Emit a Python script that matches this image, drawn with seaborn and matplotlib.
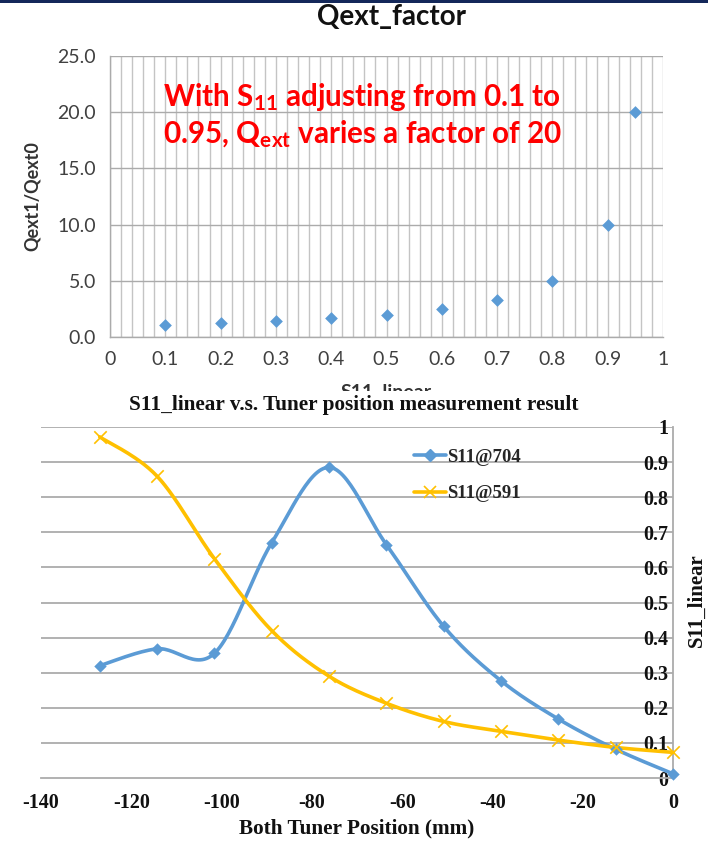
import numpy as np
import pandas as pd
import matplotlib
matplotlib.use("Agg")
import matplotlib.pyplot as plt
import matplotlib.transforms as mtransforms
from matplotlib.lines import Line2D
from matplotlib.patches import Rectangle
import seaborn as sns

# ---------------- data ----------------
s11_linear = [0.1, 0.2, 0.3, 0.4, 0.5, 0.6, 0.7, 0.8, 0.9, 0.95]
qext_ratio = [1.11, 1.25, 1.43, 1.67, 2.0, 2.5, 3.33, 5.0, 10.0, 20.0]

tuner_pos = [-127.0, -114.3, -101.6, -88.9, -76.2, -63.5, -50.8, -38.1, -25.4, -12.7, 0.0]
s11_704 = [0.32, 0.368, 0.355, 0.67, 0.885, 0.665, 0.432, 0.277, 0.168, 0.082, 0.012]
s11_591 = [0.972, 0.86, 0.625, 0.42, 0.29, 0.213, 0.161, 0.133, 0.108, 0.087, 0.073]

top_yticks = [0, 5, 10, 15, 20, 25]
top_xticks = [0, 0.1, 0.2, 0.3, 0.4, 0.5, 0.6, 0.7, 0.8, 0.9, 1.0]
bot_xticks = [-140, -120, -100, -80, -60, -40, -20, 0]
bot_yticks = [0, 0.1, 0.2, 0.3, 0.4, 0.5, 0.6, 0.7, 0.8, 0.9, 1.0]

# ---------------- style ----------------
sns.set_theme(style="white")
plt.rcParams['font.family'] = ['Lato', 'DejaVu Sans']
plt.rcParams['mathtext.fontset'] = 'custom'
plt.rcParams['mathtext.rm'] = 'Lato:bold'
plt.rcParams['mathtext.it'] = 'Lato:bold'
plt.rcParams['mathtext.bf'] = 'Lato:bold'

BLUE = '#5B9BD5'
YELLOW = '#FFC000'
GRID = '#ABABAB'
SERIF = 'Liberation Serif'

fig = plt.figure(figsize=(7.08, 8.42), dpi=100)
fig.patch.set_facecolor('white')

# dark header bar
fig.patches.append(Rectangle((0, 1 - 3 / 842), 1, 3 / 842, transform=fig.transFigure,
                             facecolor='#14285A', edgecolor='none', zorder=10))

# ---------------- top chart ----------------
ax1 = fig.add_axes([110 / 708, 1 - 337 / 842, 553 / 708, 281 / 842])
ax1.set_xlim(0, 1)
ax1.set_ylim(0, 25)
for xv in np.arange(0, 1.0001, 0.02):
    ax1.axvline(xv, color='#C4C4C4', lw=1.0, zorder=0)
for yv in top_yticks:
    ax1.axhline(yv, color=GRID, lw=1.0, zorder=0.5)
top_df = pd.DataFrame({'s11': s11_linear, 'q': qext_ratio})
sns.scatterplot(data=top_df, x='s11', y='q', ax=ax1, marker='D', s=42,
                color=BLUE, edgecolor=BLUE, linewidth=0, zorder=3, clip_on=False)
ax1.set_xticks(top_xticks)
ax1.set_xticklabels(['0' if v == 0 else ('1' if v == 1 else f'{v:.1f}') for v in top_xticks])
ax1.set_yticks(top_yticks)
ax1.set_yticklabels([f'{v:.1f}' for v in top_yticks])
ax1.tick_params(axis='both', labelsize=14, colors='#333333', labelcolor='#404040')
ax1.tick_params(axis='y', length=6, width=1, color=GRID, pad=4, direction='out')
ax1.tick_params(axis='x', length=0, pad=10)
for sp in ['top', 'right']:
    ax1.spines[sp].set_visible(False)
for sp in ['left', 'bottom']:
    ax1.spines[sp].set_color(GRID)
    ax1.spines[sp].set_linewidth(1.0)
ax1.set_xticks(np.arange(0, 1.0001, 0.02), minor=True)
ax1.tick_params(axis='x', which='minor', length=4, color=GRID, direction='inout')
ax1.set_xlabel('')
ax1.set_ylabel('Qext1/Qext0', fontsize=13, fontweight='bold', color='#333333', labelpad=12)

fig.text(391 / 708, 1 - 17 / 842, 'Qext_factor', ha='center', va='center',
         fontsize=20, fontweight='bold', color='#111111')

ax1.text(0.096, 0.855, r'With S$_{11}$ adjusting from 0.1 to', transform=ax1.transAxes,
         fontsize=21.3, fontweight='bold', color='#FF0000', ha='left', va='center', zorder=5)
ax1.text(0.096, 0.72, r'0.95, Q$_{\mathrm{ext}}$ varies a factor of 20', transform=ax1.transAxes,
         fontsize=21.3, fontweight='bold', color='#FF0000', ha='left', va='center', zorder=5)

# partly hidden x-axis label (covered by the lower chart)
fig.text(386 / 708, 1 - 384 / 842, 'S11_linear', ha='center', va='top',
         fontsize=14, fontweight='bold', color='#333333', zorder=2)
fig.patches.append(Rectangle((0, 0), 1, 1 - 391 / 842, transform=fig.transFigure,
                             facecolor='white', edgecolor='none', zorder=3))

# ---------------- bottom chart ----------------
ax2 = fig.add_axes([41 / 708, 1 - 778 / 842, 632 / 708, 351 / 842])
ax2.set_zorder(5)
ax2.patch.set_alpha(0)
ax2.set_xlim(-140, 0)
ax2.set_ylim(0, 1)
for yv in bot_yticks[1:]:
    ax2.axhline(yv, color=GRID, lw=1.3, zorder=0)


def catmull(xs, ys, n=30):
    xs = np.asarray(xs, float)
    ys = np.asarray(ys, float)
    px = np.concatenate([[xs[0]], xs, [xs[-1]]])
    py = np.concatenate([[ys[0]], ys, [ys[-1]]])
    outx, outy = [], []
    t = np.linspace(0, 1, n)
    for i in range(1, len(px) - 2):
        x0, x1, x2, x3 = px[i - 1], px[i], px[i + 1], px[i + 2]
        y0, y1, y2, y3 = py[i - 1], py[i], py[i + 1], py[i + 2]
        c1x, c1y = x1 + (x2 - x0) / 6, y1 + (y2 - y0) / 6
        c2x, c2y = x2 - (x3 - x1) / 6, y2 - (y3 - y1) / 6
        bx = (1 - t) ** 3 * x1 + 3 * (1 - t) ** 2 * t * c1x + 3 * (1 - t) * t ** 2 * c2x + t ** 3 * x2
        by = (1 - t) ** 3 * y1 + 3 * (1 - t) ** 2 * t * c1y + 3 * (1 - t) * t ** 2 * c2y + t ** 3 * y2
        outx.extend(bx)
        outy.extend(by)
    return np.array(outx), np.array(outy)


for yvals, col, mk, ms in [(s11_704, BLUE, 'D', 40), (s11_591, YELLOW, 'x', 80)]:
    cx, cy = catmull(tuner_pos, yvals)
    cdf = pd.DataFrame({'x': cx, 'y': cy})
    sns.lineplot(data=cdf, x='x', y='y', ax=ax2, sort=False, estimator=None,
                 color=col, lw=2.6, zorder=3, clip_on=False)
    pdf = pd.DataFrame({'x': tuner_pos, 'y': yvals})
    sns.scatterplot(data=pdf, x='x', y='y', ax=ax2, marker=mk, s=ms, color=col,
                    edgecolor=col if mk == 'D' else None, linewidth=1.2 if mk == 'x' else 0,
                    zorder=4, clip_on=False)

ax2.set_xticks(bot_xticks)
ax2.set_xticklabels([str(v) for v in bot_xticks])
ax2.set_yticks(bot_yticks)
ax2.set_yticklabels(['0', '0.1', '0.2', '0.3', '0.4', '0.5', '0.6', '0.7', '0.8', '0.9', '1'])
for lbl in ax2.get_xticklabels() + ax2.get_yticklabels():
    lbl.set_fontfamily(SERIF)
    lbl.set_fontweight('bold')
    lbl.set_fontsize(14.5)
    lbl.set_color('#111111')
ax2.tick_params(axis='x', length=6, width=1, color=GRID, direction='out', pad=5)
ax2.tick_params(axis='y', length=0, pad=0)
offset = mtransforms.ScaledTranslation(627 / 100, 0, fig.dpi_scale_trans)
for lbl in ax2.get_yticklabels():
    lbl.set_horizontalalignment('right')
    lbl.set_transform(lbl.get_transform() + offset)

for sp in ['top', 'left']:
    ax2.spines[sp].set_visible(False)
for sp in ['right', 'bottom']:
    ax2.spines[sp].set_color(GRID)
    ax2.spines[sp].set_linewidth(1.3)

ax2.set_xlabel('Both Tuner Position (mm)', fontfamily=SERIF, fontweight='bold',
               fontsize=15.3, color='#111111', labelpad=4)
ax2.set_ylabel('')
fig.text(697 / 708, 1 - 600 / 842, 'S11_linear', rotation=90, ha='center', va='center',
         fontfamily=SERIF, fontweight='bold', fontsize=15, color='#111111', zorder=6)
fig.text(354 / 708, 1 - 405 / 842, 'S11_linear v.s. Tuner position measurement result',
         ha='center', va='center', fontfamily=SERIF, fontweight='bold', fontsize=15.3,
         color='#111111', zorder=6)

handles = [Line2D([], [], color=BLUE, lw=2.6, marker='D', markersize=6),
           Line2D([], [], color=YELLOW, lw=2.6, marker='x', markersize=9, markeredgewidth=1.2)]
leg = ax2.legend(handles, ['S11@704', 'S11@591'], loc='upper left',
                 bbox_to_anchor=((406 - 41) / 632, (778 - 441) / 351),
                 frameon=False, handlelength=1.75, handletextpad=0.05, labelspacing=1.05,
                 prop={'family': SERIF, 'weight': 'bold', 'size': 13.5}, borderaxespad=0)

fig.savefig('out.png', dpi=100)
